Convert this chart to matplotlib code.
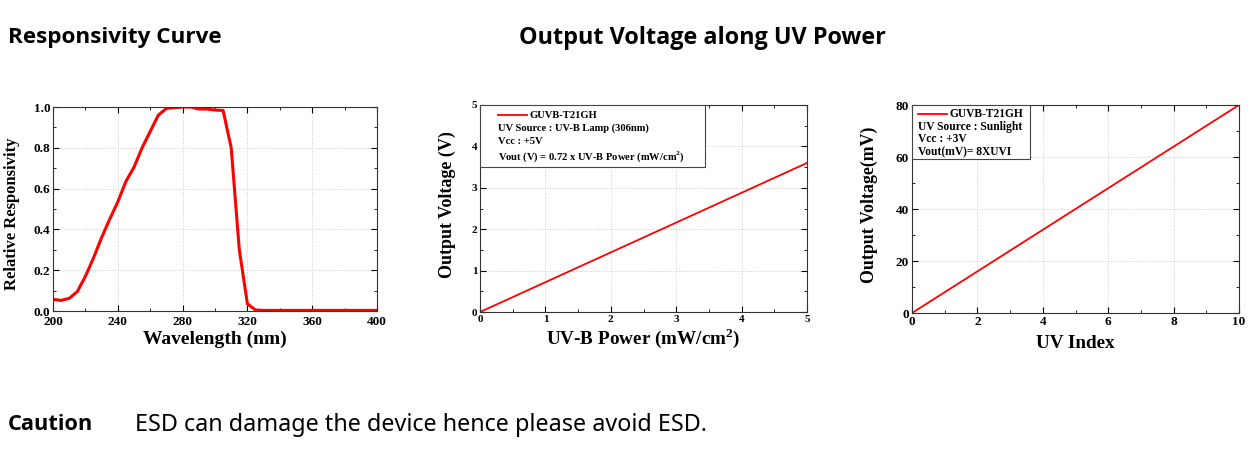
import matplotlib
matplotlib.use('Agg')
import matplotlib.pyplot as plt
from matplotlib.patches import Rectangle
from matplotlib.lines import Line2D

# responsivity curve
wavelength = [200, 205, 210, 215, 220, 225, 230, 235, 240, 245, 250, 255, 260,
              265, 270, 275, 280, 285, 290, 295, 300, 305, 310, 315, 320, 325,
              330, 340, 360, 380, 400]
responsivity = [0.057, 0.052, 0.062, 0.095, 0.17, 0.26, 0.36, 0.45, 0.535,
                0.635, 0.705, 0.80, 0.88, 0.96, 0.993, 0.997, 1.0, 1.0, 0.99,
                0.99, 0.985, 0.983, 0.80, 0.30, 0.035, 0.005, 0.003, 0.003,
                0.003, 0.003, 0.003]

uvb_power = [0, 5]
vout_v = [0, 3.6]

uv_index = [0, 10]
vout_mv = [0, 80]

legend2 = ['GUVB-T21GH', 'UV Source : UV-B Lamp (306nm)', 'Vcc : +5V',
           'Vout (V) = 0.72 x UV-B Power (mW/cm$^\\mathbf{2}$)']
legend3 = ['GUVB-T21GH', 'UV Source : Sunlight', 'Vcc : +3V', 'Vout(mV)= 8XUVI']

serif = 'Liberation Serif'
sans = ['Open Sans', 'Lato', 'DejaVu Sans']
W, H = 1251, 451

fig = plt.figure(figsize=(W / 100, H / 100), dpi=100)
plt.rcParams['mathtext.fontset'] = 'custom'
plt.rcParams['mathtext.bf'] = 'Liberation Serif:bold'
plt.rcParams['mathtext.rm'] = 'Liberation Serif'


def make_axes(l, r, t, b):
    return fig.add_axes([l / W, 1 - b / H, (r - l) / W, (b - t) / H])


def style_axes(ax, xt, yt, fmt, size):
    ax.set_xticks(xt)
    ax.set_yticks(yt)
    ax.set_xticks([(a + b) / 2 for a, b in zip(xt[:-1], xt[1:])], minor=True)
    ax.set_yticks([(a + b) / 2 for a, b in zip(yt[:-1], yt[1:])], minor=True)
    ax.set_xticklabels([fmt[0].format(v) for v in xt])
    ax.set_yticklabels([fmt[1].format(v) for v in yt])
    ax.tick_params(which='both', direction='in', top=True, right=True,
                   labelsize=size, pad=2)
    ax.tick_params(which='major', length=4, width=0.8)
    ax.tick_params(which='minor', length=2.5, width=0.6)
    for lab in ax.get_xticklabels() + ax.get_yticklabels():
        lab.set_fontfamily(serif)
        lab.set_fontweight('bold')
    ax.grid(True, which='major', linestyle=':', color='#cccccc', linewidth=0.7)
    for s in ax.spines.values():
        s.set_linewidth(0.8)
        s.set_color('#333333')


def legend_box(ax, x0, x1, y0, y1, lines, rows, line_x, text_x, size):
    ax.add_patch(Rectangle((x0, y0), x1 - x0, y1 - y0, transform=ax.transAxes,
                           facecolor='white', edgecolor='#444444', lw=0.8,
                           zorder=5))
    ax.add_line(Line2D(line_x, [rows[0], rows[0]], transform=ax.transAxes,
                       color='red', lw=1.3, zorder=6))
    for i, (txt, y) in enumerate(zip(lines, rows)):
        ax.text(text_x if i == 0 else line_x[0], y, txt, transform=ax.transAxes,
                fontsize=size, fontfamily=serif, fontweight='bold',
                va='center', ha='left', zorder=6)


# responsivity
ax1 = make_axes(53, 377, 107, 311)
ax1.plot(wavelength, responsivity, color='red', lw=2.2)
ax1.set_xlim(200, 400)
ax1.set_ylim(0, 1.0)
style_axes(ax1, [200, 240, 280, 320, 360, 400], [0, 0.2, 0.4, 0.6, 0.8, 1.0],
           ('{:d}', '{:.1f}'), 9.5)
ax1.tick_params(axis='x', which='major', pad=3.5)
ax1.set_xlabel('Wavelength (nm)', fontfamily=serif, fontweight='bold',
               fontsize=14, labelpad=2)
ax1.set_ylabel('Relative Responsivity', fontfamily=serif, fontweight='bold',
               fontsize=12, labelpad=4)
ax1.yaxis.set_label_coords(-33 / 324, 0.478)

# output voltage vs UV-B power
ax2 = make_axes(480, 807, 105, 312)
ax2.plot(uvb_power, vout_v, color='red', lw=1.3)
ax2.set_xlim(0, 5)
ax2.set_ylim(0, 5)
style_axes(ax2, [0, 1, 2, 3, 4, 5], [0, 1, 2, 3, 4, 5], ('{:d}', '{:d}'), 8)
ax2.set_xlabel('UV-B Power (mW/cm$^\\mathbf{2}$)', fontfamily=serif,
               fontweight='bold', fontsize=13.8, labelpad=2)
ax2.set_ylabel('Output Voltage (V)', fontfamily=serif, fontweight='bold',
               fontsize=13, labelpad=8)
ax2.yaxis.set_label_coords(-24 / 327, 0.52)
fx = lambda px: (px - 480) / 327
fy = lambda py: (312 - py) / 207
legend_box(ax2, 0, fx(705), fy(167), 1, legend2,
           [fy(115), fy(128), fy(141), fy(157)], [fx(498), fx(527)], fx(530), 7.6)

# output voltage vs UV index
ax3 = make_axes(912, 1239, 105, 313)
ax3.plot(uv_index, vout_mv, color='red', lw=1.3)
ax3.set_xlim(0, 10)
ax3.set_ylim(0, 80)
style_axes(ax3, [0, 2, 4, 6, 8, 10], [0, 20, 40, 60, 80], ('{:d}', '{:d}'), 9.5)
ax3.set_xlabel('UV Index', fontfamily=serif, fontweight='bold', fontsize=13.8,
               labelpad=5)
ax3.set_ylabel('Output Voltage(mV)', fontfamily=serif, fontweight='bold',
               fontsize=12.8, labelpad=5)
ax3.yaxis.set_label_coords(-34 / 327, 0.52)
gx = lambda px: (px - 912) / 327
gy = lambda py: (313 - py) / 208
legend_box(ax3, 0, gx(1030), gy(159), 1, legend3,
           [gy(114), gy(127), gy(139), gy(152)], [gx(918), gx(947)], gx(950), 8.3)

# headings
fig.text(8 / W, 1 - 38 / H, 'Responsivity Curve', fontfamily=sans,
         fontweight='bold', fontsize=16.2, va='center', ha='left')
fig.text(519 / W, 1 - 38 / H, 'Output Voltage along UV Power',
         fontfamily=sans, fontweight='bold', fontsize=16.8, va='center',
         ha='left')
fig.text(8 / W, 1 - 425 / H, 'Caution', fontfamily=sans,
         fontweight='bold', fontsize=15.7, va='center', ha='left')
fig.text(135 / W, 1 - 425 / H, 'ESD can damage the device hence please avoid ESD.',
         fontfamily='Noto Sans', fontsize=16.8, va='center', ha='left')

fig.savefig('out.png', dpi=100)
